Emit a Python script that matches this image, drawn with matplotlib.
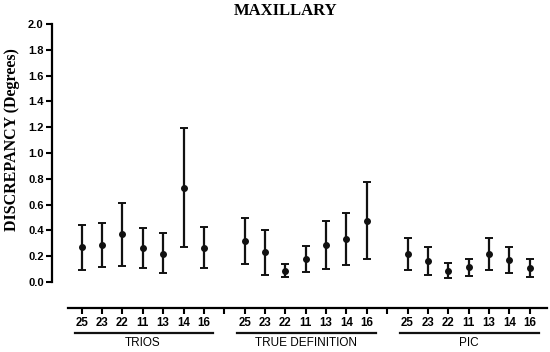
import matplotlib
matplotlib.use("Agg")
import matplotlib.pyplot as plt
import matplotlib.transforms as mtransforms
from matplotlib.font_manager import FontProperties
import numpy as np

groups = ["TRIOS", "TRUE DEFINITION", "PIC"]
teeth = ["25", "23", "22", "11", "13", "14", "16"]

means = {
    "TRIOS":           [0.27, 0.29, 0.37, 0.26, 0.22, 0.73, 0.265],
    "TRUE DEFINITION": [0.32, 0.23, 0.088, 0.18, 0.285, 0.335, 0.475],
    "PIC":             [0.215, 0.165, 0.088, 0.113, 0.215, 0.17, 0.108],
}
upper = {
    "TRIOS":           [0.445, 0.46, 0.61, 0.415, 0.38, 1.19, 0.425],
    "TRUE DEFINITION": [0.495, 0.405, 0.14, 0.28, 0.47, 0.535, 0.775],
    "PIC":             [0.343, 0.275, 0.147, 0.18, 0.343, 0.275, 0.176],
}
lower = {
    "TRIOS":           [0.093, 0.115, 0.125, 0.105, 0.068, 0.275, 0.105],
    "TRUE DEFINITION": [0.14, 0.052, 0.038, 0.08, 0.098, 0.133, 0.175],
    "PIC":             [0.09, 0.054, 0.029, 0.044, 0.09, 0.067, 0.041],
}

W, H = 550, 352
fig = plt.figure(figsize=(W / 100, H / 100), dpi=100)
ax = fig.add_axes([52 / W, (H - 282) / H, (547 - 52) / W, (282 - 24) / H])

# spines first (repositioning resets tick objects)
for s in ["top", "right"]:
    ax.spines[s].set_visible(False)
ax.spines["left"].set_linewidth(1.6)
ax.spines["bottom"].set_linewidth(1.6)
ax.spines["bottom"].set_position(("outward", 18.7))

step = 8
tick_pos = []
tick_lab = []
for gi, g in enumerate(groups):
    x = np.arange(len(teeth)) + gi * step
    m = np.array(means[g])
    lo = m - np.array(lower[g])
    hi = np.array(upper[g]) - m
    ax.errorbar(x, m, yerr=[lo, hi], fmt='o', color='#111111', ms=4,
                elinewidth=1.6, capsize=2.8, capthick=1.4)
    tick_pos += list(x)
    tick_lab += teeth
    if gi < len(groups) - 1:
        tick_pos.append(gi * step + len(teeth))
        tick_lab.append("")

ax.set_ylim(0, 2.0)
ax.set_xlim(-1.46, 22.85)
ax.spines["left"].set_bounds(0, 2.0)
ax.spines["bottom"].set_bounds(-0.66, 22.84)
ax.set_yticks(np.arange(0, 2.01, 0.2))
ax.set_yticklabels([f"{v:.1f}" for v in np.arange(0, 2.01, 0.2)])
ax.set_xticks(tick_pos)
ax.set_xticklabels(tick_lab)
ax.tick_params(axis="y", direction="out", length=4, width=1.5, pad=2)
ax.tick_params(axis="x", direction="out", length=4, width=1.5, pad=2.5)

fp_y = FontProperties(family="Liberation Sans", weight="bold", size=8)
fp_x = FontProperties(family="Liberation Sans", weight="bold", size=8.3)
for t in ax.get_yticklabels():
    t.set_fontproperties(fp_y)
for t in ax.get_xticklabels():
    t.set_fontproperties(fp_x)

trans = mtransforms.blended_transform_factory(ax.transData, fig.transFigure)
for gi, g in enumerate(groups):
    x0 = gi * step - 0.35
    x1 = gi * step + len(teeth) - 1 + 0.45
    ax.plot([x0, x1], [1 - 332.5 / H] * 2, color='#111111', lw=1.6,
            transform=trans, clip_on=False)
    ax.text(gi * step + 3, 1 - 343 / H, g, transform=trans, ha="center", va="center",
            fontfamily="Liberation Sans", fontsize=8.5)

fig.text(286 / W, 1 - 11 / H, "MAXILLARY", ha="center", va="center",
         fontfamily="Liberation Serif", fontweight="bold", fontsize=12)
fig.text(12 / W, 1 - 140 / H, "DISCREPANCY (Degrees)", ha="center", va="center",
         rotation=90, fontfamily="Liberation Serif", fontweight="bold", fontsize=11.5)

fig.savefig("out.png", dpi=100)
